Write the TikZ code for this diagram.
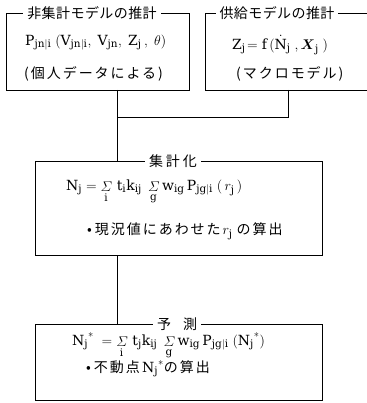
\RequirePackage{fix-cm}
\documentclass[tikz,border=0pt]{standalone}
\usepackage{amsmath}
\usepackage{fontspec}
\setmathrm{DejaVu Serif}
\DeclareMathSizes{14}{14}{10.5}{8}
\newfontfamily\jpT{Noto Sans CJK JP}[LetterSpace=3]
\newfontfamily\jpB{Noto Sans CJK JP}[LetterSpace=14]
\newfontfamily\jpC{Noto Sans CJK JP}[LetterSpace=14]
\newfontfamily\jpW{Noto Sans CJK JP}[LetterSpace=20]
\newcommand{\fs}{\fontsize{14}{16}\selectfont}
\newcommand{\fm}{\fontsize{14}{16}\selectfont}
\newcommand{\R}[1]{\mathrm{#1}}
\newcommand{\Sg}[1]{\mathop{\mathnormal{\Sigma}}\limits_{\R{#1}}}
\tikzset{
  box/.style={draw, line width=0.8pt, rectangle, inner sep=0pt, outer sep=0pt},
  ttl/.style={fill=white, inner xsep=4pt, inner ysep=1pt},
  txt/.style={inner sep=0pt, anchor=west},
  conn/.style={line width=0.8pt},
}
\begin{document}
\begin{tikzpicture}[x=1pt, y=-1pt]
\path[use as bounding box] (0,0) rectangle (366,403);
% boxes
\node[box, minimum width=183pt, minimum height=77pt] (b1) at (97.5,51.5) {};
\node[box, minimum width=166pt, minimum height=77pt] (b2) at (288,51.5) {};
\node[box, minimum width=287pt, minimum height=94pt] (b3) at (178.5,208) {};
\node[box, minimum width=287pt, minimum height=76pt] (b4) at (178.5,362) {};
% titles
\node[ttl] (t1) at (92,13) {\fs\jpT 非集計モデルの推計};
\node[ttl] (t2) at (277,13) {\fs\jpT 供給モデルの推計};
\node[ttl] (t3) at (173,161) {\fs\jpW 集計化};
\node[ttl] (t4) at (177,324) {\fs\jpT 予\hspace{12pt}測};
% contents box1
\node[txt] (f1) at (25,43) {\fm$\R{P}_{\R{jn|i}}\;(\R{V}_{\R{jn|i}},\;\R{V}_{\R{jn}},\;\R{Z}_{\R{j}}\,,\;\theta)$};
\node[txt] (g1) at (24,74) {\fs\jpB (個人データによる)};
% box2
\node[txt] (f2) at (232,45) {\fm$\R{Z}_{\R{j}}\!=\R{f}\,(\dot{\R{N}}_{\R{j}}\;,\boldsymbol{X}_{\R{j}}\;)$};
\node[txt] (g2) at (236,74) {\fs\jpB (マクロモデル)};
% box3
\node[txt] (f3) at (66,192) {\fm$\R{N}_{\R{j}}=\Sg{i}\,\R{t}_{\R{i}}\R{k}_{\R{ij}}\;\Sg{g}\R{w}_{\R{ig}}\,\R{P}_{\R{jg|i}}\;(\,r_{\R{j}}\,)$};
\node[txt] (g3) at (87,231) {\fs\jpC •\hspace{3pt}現況値にあわせた\hspace{2pt}$r_{\R{j}}$\hspace{4pt}の算出};
% box4
\node[txt] (f4) at (72,346) {\fm$\R{N}_{\R{j}}{}^{*}\;=\Sg{i}\,\R{t}_{\R{j}}\R{k}_{\R{ij}}\;\Sg{g}\R{w}_{\R{ig}}\,\R{P}_{\R{jg|i}}\;(\R{N}_{\R{j}}{}^{*})$};
\node[txt] (g4) at (86,369) {\fs\jpC •\hspace{3pt}不動点\,$\R{N}_{\R{j}}{}^{*}$の算出};
% connectors
\coordinate (j1) at (117,117);
\draw[conn] (j1 |- b1.south) -- (j1 |- b3.north);
\draw[conn] (b2.south) |- (j1);
\draw[conn] (j1 |- b3.south) -- (j1 |- b4.north);
\end{tikzpicture}
\end{document}
